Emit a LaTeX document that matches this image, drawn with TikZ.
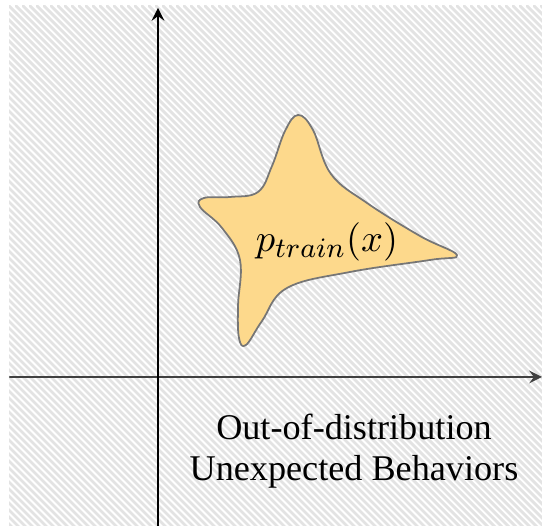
\documentclass[tikz,border=0pt]{standalone}
\usepackage{fontspec}
\setmainfont{Liberation Serif}
\definecolor{blobfill}{RGB}{253,217,140}
\definecolor{blobline}{RGB}{118,118,118}
\begin{document}
\begin{tikzpicture}[x=0.1mm,y=0.1mm,>=stealth, line join=round, line cap=round]
 \def\xmin{10} \def\xmax{542} % axis range
 \def\ymin{0} \def\ymax{518}
 \def\ox{158} \def\oy{149} % origin
 \useasboundingbox (0,0) rectangle (542,526);
 % hatched background
 \begin{scope}
 \clip (9,0) rectangle (542,520);
 \foreach \i in {-530,-523,...,560}
 \draw[black!11, line width=0.28mm] (\i,520)--++(540,-540);
 \end{scope}
 % training distribution
 \draw[blobline, fill=blobfill, line width=0.5pt, smooth cycle, tension=0.65]
 plot coordinates {(298,411) (285,395) (272,360) (258,334) (230,329)
 (204,328) (200,319) (222,298) (240,266) (238,220) (239,188) (246,181)
 (262,205) (287,238) (350,254) (430,266) (457,271) (420,290) (367,323)
 (331,352) (313,396)};
 \node (ptrain) at (327,284) {\fontsize{11}{13}\selectfont $p_{train}(x)$};
 % axes
 \coordinate (xl) at (\xmin,\oy); \coordinate (xr) at (\xmax,\oy);
 \coordinate (yb) at (\ox,\ymin); \coordinate (yt) at (\ox,\ymax);
 \draw[->, black!75, line width=0.6pt] (xl)--(xr);
 \draw[->, line width=0.6pt] (yb)--(yt);
 \node[align=center, font=\fontsize{10.3}{11.6}\selectfont] (ood) at (354,75)
 {Out-of-distribution\\Unexpected Behaviors};
\end{tikzpicture}
\end{document}
